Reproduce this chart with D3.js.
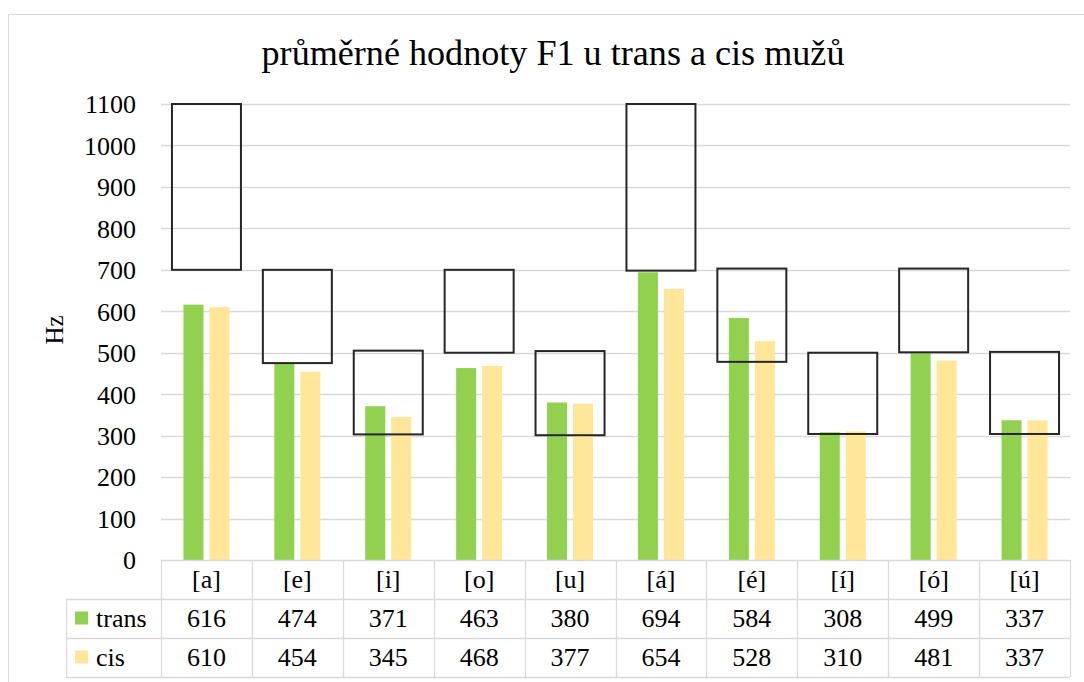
<!DOCTYPE html>
<html>
<head>
<meta charset="utf-8">
<script src="https://cdn.jsdelivr.net/npm/d3@7"></script>
<style>
  html, body { margin: 0; padding: 0; background: #fff; }
  svg { display: block; }
  text { font-family: "Liberation Serif", serif; fill: #000; }
</style>
</head>
<body>
<svg id="chart" width="1084" height="682"></svg>
<script>
// ---- data ----
const categories = ["[a]", "[e]", "[i]", "[o]", "[u]", "[á]", "[é]", "[í]", "[ó]", "[ú]"];
const transValues = [616, 474, 371, 463, 380, 694, 584, 308, 499, 337];
const cisValues   = [610, 454, 345, 468, 377, 654, 528, 310, 481, 337];
const normLow  = [700, 475, 303, 500, 301, 698, 478, 304, 501, 304];
const normHigh = [1100, 700, 505, 700, 504, 1100, 703, 500, 703, 502];
const seriesNames = ["trans", "cis"];
const yTicks = [0, 100, 200, 300, 400, 500, 600, 700, 800, 900, 1000, 1100];
const titleText = "průměrné hodnoty F1 u trans a cis mužů";
const yLabel = "Hz";

const colors = { trans: "#92D050", cis: "#FFE699" };
const seriesValues = { trans: transValues, cis: cisValues };
const FONT = "'Liberation Serif', serif";
const FS = "26px";

const svg = d3.select("#chart");

// chart border
svg.append("rect")
  .attr("x", 8.5).attr("y", 14.5).attr("width", 1200).attr("height", 800)
  .attr("fill", "none").attr("stroke", "#D9D9D9").attr("stroke-width", 1);

const plotLeft = 161, plotRight = 1070, plotTop = 104, plotBottom = 560;

const x = d3.scaleBand().domain(categories).range([plotLeft, plotRight]);
const y = d3.scaleLinear().domain([0, 1100]).range([plotBottom, plotTop]);
const bw = x.bandwidth();
const x1 = d3.scaleBand().domain(seriesNames)
  .range([bw / 2 - 23, bw / 2 + 23]).paddingInner(0.2308).paddingOuter(0);

// title
const title = svg.append("text")
  .attr("x", 553).attr("y", 65)
  .attr("text-anchor", "middle")
  .style("font-family", FONT)
  .style("font-size", "30px")
  .text(titleText);
const tl = title.node().getComputedTextLength();
title.style("font-size", (30 * 583 / tl).toFixed(2) + "px");

// gridlines
svg.append("g")
  .selectAll("line")
  .data(yTicks.filter(d => d > 0))
  .join("line")
  .attr("x1", plotLeft).attr("x2", plotRight)
  .attr("y1", d => Math.round(y(d)) + 0.5).attr("y2", d => Math.round(y(d)) + 0.5)
  .attr("stroke", "#D9D9D9").attr("stroke-width", 1.3);

// y axis (labels only)
const yAxis = d3.axisLeft(y).tickValues(yTicks).tickFormat(d3.format("d")).tickSize(0).tickPadding(0);
const yg = svg.append("g").attr("transform", "translate(136,0)").call(yAxis);
yg.attr("font-family", null);
yg.select(".domain").remove();
yg.selectAll("text")
  .style("font-family", FONT)
  .style("font-size", FS)
  .attr("dy", "0.34em")
  .attr("fill", "#000");

// y label
svg.append("text")
  .attr("transform", "translate(63,330) rotate(-90)")
  .attr("text-anchor", "middle")
  .style("font-family", FONT)
  .style("font-size", "25px")
  .text(yLabel);

// bars
const groups = svg.append("g").selectAll("g")
  .data(categories)
  .join("g")
  .attr("transform", d => `translate(${x(d)},0)`);

groups.selectAll("rect")
  .data((d, i) => seriesNames.map(s => ({ s, v: seriesValues[s][i] })))
  .join("rect")
  .attr("x", d => x1(d.s))
  .attr("width", x1.bandwidth())
  .attr("y", d => y(d.v))
  .attr("height", d => y(0) - y(d.v))
  .attr("fill", d => colors[d.s]);

// norm boxes
svg.append("g").selectAll("rect")
  .data(categories)
  .join("rect")
  .attr("x", d => x(d) + bw / 2 - 34.5)
  .attr("width", 69)
  .attr("y", (d, i) => y(normHigh[i]))
  .attr("height", (d, i) => y(normLow[i]) - y(normHigh[i]))
  .attr("fill", "none")
  .attr("stroke", "#262626")
  .attr("stroke-width", 2);

// data table
const rowTop = [560, 599, 638];
const rowH = 39;
const legendLeft = 66;
const tableStroke = "#D9D9D9";
const tg = svg.append("g");

tg.append("line").attr("x1", plotLeft).attr("x2", plotRight)
  .attr("y1", rowTop[0] + 0.5).attr("y2", rowTop[0] + 0.5)
  .attr("stroke", tableStroke).attr("stroke-width", 1.3);
[rowTop[1], rowTop[2], rowTop[2] + rowH].forEach(yy => {
  tg.append("line").attr("x1", legendLeft).attr("x2", plotRight)
    .attr("y1", yy + 0.5).attr("y2", yy + 0.5)
    .attr("stroke", tableStroke).attr("stroke-width", 1.3);
});
const vxs = categories.map(c => x(c)).concat([plotRight]);
vxs.forEach(vx => {
  tg.append("line").attr("x1", Math.round(vx) + 0.5).attr("x2", Math.round(vx) + 0.5)
    .attr("y1", rowTop[0]).attr("y2", rowTop[2] + rowH)
    .attr("stroke", tableStroke).attr("stroke-width", 1.3);
});
tg.append("line").attr("x1", legendLeft + 0.5).attr("x2", legendLeft + 0.5)
  .attr("y1", rowTop[1]).attr("y2", rowTop[2] + rowH)
  .attr("stroke", tableStroke).attr("stroke-width", 1.3);

tg.selectAll("text.cat")
  .data(categories)
  .join("text")
  .attr("class", "cat")
  .attr("x", d => x(d) + bw / 2)
  .attr("y", rowTop[0] + rowH / 2)
  .attr("dy", "0.34em")
  .attr("text-anchor", "middle")
  .style("font-family", FONT)
  .style("font-size", FS)
  .text(d => d);

seriesNames.forEach((s, r) => {
  const cy = rowTop[r + 1] + rowH / 2;
  tg.append("rect").attr("x", 75).attr("y", cy - 7).attr("width", 13).attr("height", 13)
    .attr("fill", colors[s]);
  tg.append("text").attr("x", 96).attr("y", cy).attr("dy", "0.34em")
    .style("font-family", FONT)
    .style("font-size", FS).text(s);
  tg.selectAll("text.v" + s)
    .data(seriesValues[s])
    .join("text")
    .attr("class", "v" + s)
    .attr("x", (d, i) => x(categories[i]) + bw / 2)
    .attr("y", cy)
    .attr("dy", "0.34em")
    .attr("text-anchor", "middle")
    .style("font-family", FONT)
    .style("font-size", FS)
    .text(d => d);
});
</script>
</body>
</html>
